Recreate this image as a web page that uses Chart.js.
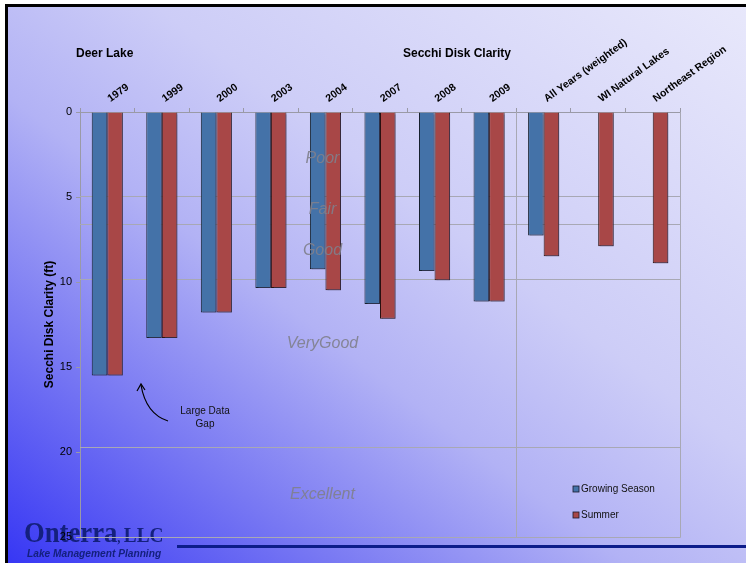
<!DOCTYPE html>
<html>
<head>
<meta charset="utf-8">
<script src="https://cdn.jsdelivr.net/npm/chart.js@4"></script>
<style>
  html, body { margin: 0; padding: 0; background: #fff; }
  #slide {
    position: absolute; left: 5px; top: 4px; width: 741px; height: 559px;
    border-left: 3px solid #000; border-top: 3px solid #000;
    background: linear-gradient(to top right, #3636f4 0%, #7878f3 22%, #b2b2f5 42%, #cdcdf7 60%, #e8e8fb 100%);
    overflow: hidden;
  }
  #wrap { position: absolute; left: 0; top: 0; width: 746px; height: 563px; }
  .rule { position: absolute; left: 177px; top: 545px; width: 569px; height: 3px; background: #0c1c8a; }
</style>
</head>
<body>
<div id="slide"></div>
<div class="rule"></div>
<div id="wrap"><canvas id="c" width="746" height="563"></canvas></div>
<script>
// categories and Secchi depths (ft)
const categories = ['1979', '1999', '2000', '2003', '2004', '2007', '2008', '2009',
  'All Years (weighted)', 'WI Natural Lakes', 'Northeast Region'];
const growingSeason = [15.5, 13.3, 11.8, 10.35, 9.25, 11.3, 9.35, 11.15, 7.26, null, null];
const summer = [15.5, 13.3, 11.8, 10.35, 10.48, 12.16, 9.9, 11.15, 8.48, 7.89, 8.89];
const yTicks = [0, 5, 10, 15, 20, 25];

// clarity class boundaries (ft) and where their labels sit
const zoneBreaks = [4.92, 6.56, 9.84, 19.68];
const zoneNames = ['Poor', 'Fair', 'Good', 'VeryGood', 'Excellent'];
const zoneLabelAt = [2.75, 5.75, 8.15, 13.6, 22.5];

const FONT = '"Liberation Sans", Arial, sans-serif';
const SERIF = '"Liberation Serif", "DejaVu Serif", serif';
const BLUE = '#4472a8';
const RED = '#a84747';
const NAVY = '#14207e';

const decor = {
  id: 'decor',
  beforeDraw(chart) {
    // company logo, sits under the axis labels
    const { ctx } = chart;
    ctx.save();
    ctx.fillStyle = NAVY;
    ctx.textBaseline = 'alphabetic';
    ctx.textAlign = 'left';
    ctx.translate(24, 542);
    ctx.scale(0.92, 1);
    ctx.font = 'bold 29px ' + SERIF;
    ctx.fillText('Onterra', 0, 0);
    const w = ctx.measureText('Onterra').width;
    ctx.font = 'bold 14px ' + SERIF;
    ctx.fillText(',', w, 0);
    ctx.font = 'bold 21px ' + SERIF;
    ctx.fillText('LLC', w + 7, 0);
    ctx.restore();
    ctx.save();
    ctx.fillStyle = NAVY;
    ctx.font = 'italic bold 10.5px ' + FONT;
    ctx.textBaseline = 'alphabetic';
    ctx.translate(27, 557);
    ctx.scale(0.97, 1);
    ctx.fillText('Lake Management Planning', 0, 0);
    ctx.restore();
  },
  beforeDatasetsDraw(chart) {
    const { ctx, chartArea: a, scales: { x, y } } = chart;
    ctx.save();
    ctx.strokeStyle = '#a8a8b4';
    ctx.lineWidth = 1;
    zoneBreaks.forEach(v => {
      const py = Math.round(y.getPixelForValue(v)) + 0.5;
      ctx.beginPath(); ctx.moveTo(a.left, py); ctx.lineTo(a.right, py); ctx.stroke();
    });
    // separator between yearly data and the comparisons
    const sx = Math.round((x.getPixelForValue(7) + x.getPixelForValue(8)) / 2) + 0.5;
    ctx.beginPath(); ctx.moveTo(sx, a.top); ctx.lineTo(sx, a.bottom); ctx.stroke();
    // right and bottom frame
    ctx.beginPath();
    ctx.moveTo(a.right + 0.5, a.top); ctx.lineTo(a.right + 0.5, a.bottom + 0.5);
    ctx.lineTo(a.left, a.bottom + 0.5); ctx.stroke();
    ctx.restore();
  },
  beforeDatasetDraw(chart) {
    const ctx = chart.ctx;
    ctx.save();
    ctx.shadowColor = 'rgba(70,70,110,0.45)';
    ctx.shadowOffsetX = 2;
    ctx.shadowOffsetY = 2;
    ctx.shadowBlur = 0;
  },
  afterDatasetDraw(chart) {
    chart.ctx.restore();
  },
  afterDatasetsDraw(chart) {
    const { ctx, scales: { x, y } } = chart;
    ctx.save();
    ctx.font = 'italic 16px ' + FONT;
    ctx.fillStyle = 'rgba(128,128,140,0.9)';
    ctx.textAlign = 'center';
    ctx.textBaseline = 'middle';
    const zx = x.getPixelForValue(4) - 3;
    zoneNames.forEach((n, i) => ctx.fillText(n, zx, y.getPixelForValue(zoneLabelAt[i])));
    ctx.restore();
  },
  afterDraw(chart) {
    const { ctx } = chart;
    ctx.save();
    ctx.fillStyle = '#000';
    ctx.font = 'bold 12px ' + FONT;
    ctx.textBaseline = 'alphabetic';
    ctx.textAlign = 'left';
    ctx.fillText('Deer Lake', 76, 57);
    ctx.textAlign = 'center';
    ctx.fillText('Secchi Disk Clarity', 457, 57);

    // legend
    ctx.font = '10px ' + FONT;
    ctx.textAlign = 'left';
    ctx.textBaseline = 'middle';
    [['Growing Season', BLUE, 489], ['Summer', RED, 515]].forEach(([t, c, py]) => {
      ctx.fillStyle = c;
      ctx.fillRect(573, py - 3, 6, 6);
      ctx.strokeStyle = '#1a1a2a';
      ctx.lineWidth = 0.8;
      ctx.strokeRect(573, py - 3, 6, 6);
      ctx.fillStyle = '#111';
      ctx.fillText(t, 581, py);
    });

    // annotation
    ctx.fillStyle = '#111';
    ctx.textAlign = 'center';
    ctx.fillText('Large Data', 205, 411);
    ctx.fillText('Gap', 205, 424);
    ctx.strokeStyle = '#000';
    ctx.lineWidth = 1.2;
    ctx.beginPath();
    ctx.moveTo(168, 421);
    ctx.quadraticCurveTo(146, 414, 141, 385);
    ctx.stroke();
    ctx.beginPath();
    ctx.moveTo(137, 391); ctx.lineTo(141, 384); ctx.lineTo(145, 390);
    ctx.stroke();
    ctx.restore();
  }
};

new Chart(document.getElementById('c'), {
  type: 'bar',
  data: {
    labels: categories,
    datasets: [
      { label: 'Growing Season', data: growingSeason, backgroundColor: BLUE, borderColor: '#16202e', borderWidth: 1 },
      { label: 'Summer', data: summer, backgroundColor: RED, borderColor: '#2a1010', borderWidth: 1 }
    ]
  },
  options: {
    responsive: false,
    animation: false,
    layout: { padding: { left: 42, right: 66, top: 0, bottom: 26 } },
    datasets: { bar: { categoryPercentage: 0.57, barPercentage: 1.0 } },
    plugins: { legend: { display: false }, tooltip: { enabled: false } },
    scales: {
      x: {
        position: 'top',
        offset: true,
        afterFit(s) { s.height = 112; },
        grid: { display: true, drawOnChartArea: false, offset: true, tickLength: 4, color: '#9a9aa6' },
        border: { color: '#9a9aa6' },
        ticks: { color: '#000', font: { family: FONT, size: 10.5, weight: 'bold' }, minRotation: 36, maxRotation: 36, padding: 3, labelOffset: 9 }
      },
      y: {
        reverse: true,
        min: 0,
        max: 25,
        afterBuildTicks(s) { s.ticks = yTicks.map(v => ({ value: v })); },
        afterFit(s) { s.width = 38; },
        grid: { drawOnChartArea: false, tickLength: 4, color: '#9a9aa6' },
        border: { color: '#9a9aa6' },
        ticks: { color: '#000', font: { family: FONT, size: 11 }, padding: 4 },
        title: { display: true, text: 'Secchi Disk Clarity (ft)', color: '#000', font: { family: FONT, size: 12, weight: 'bold' }, padding: 0 }
      }
    }
  },
  plugins: [decor]
});
</script>
</body>
</html>
